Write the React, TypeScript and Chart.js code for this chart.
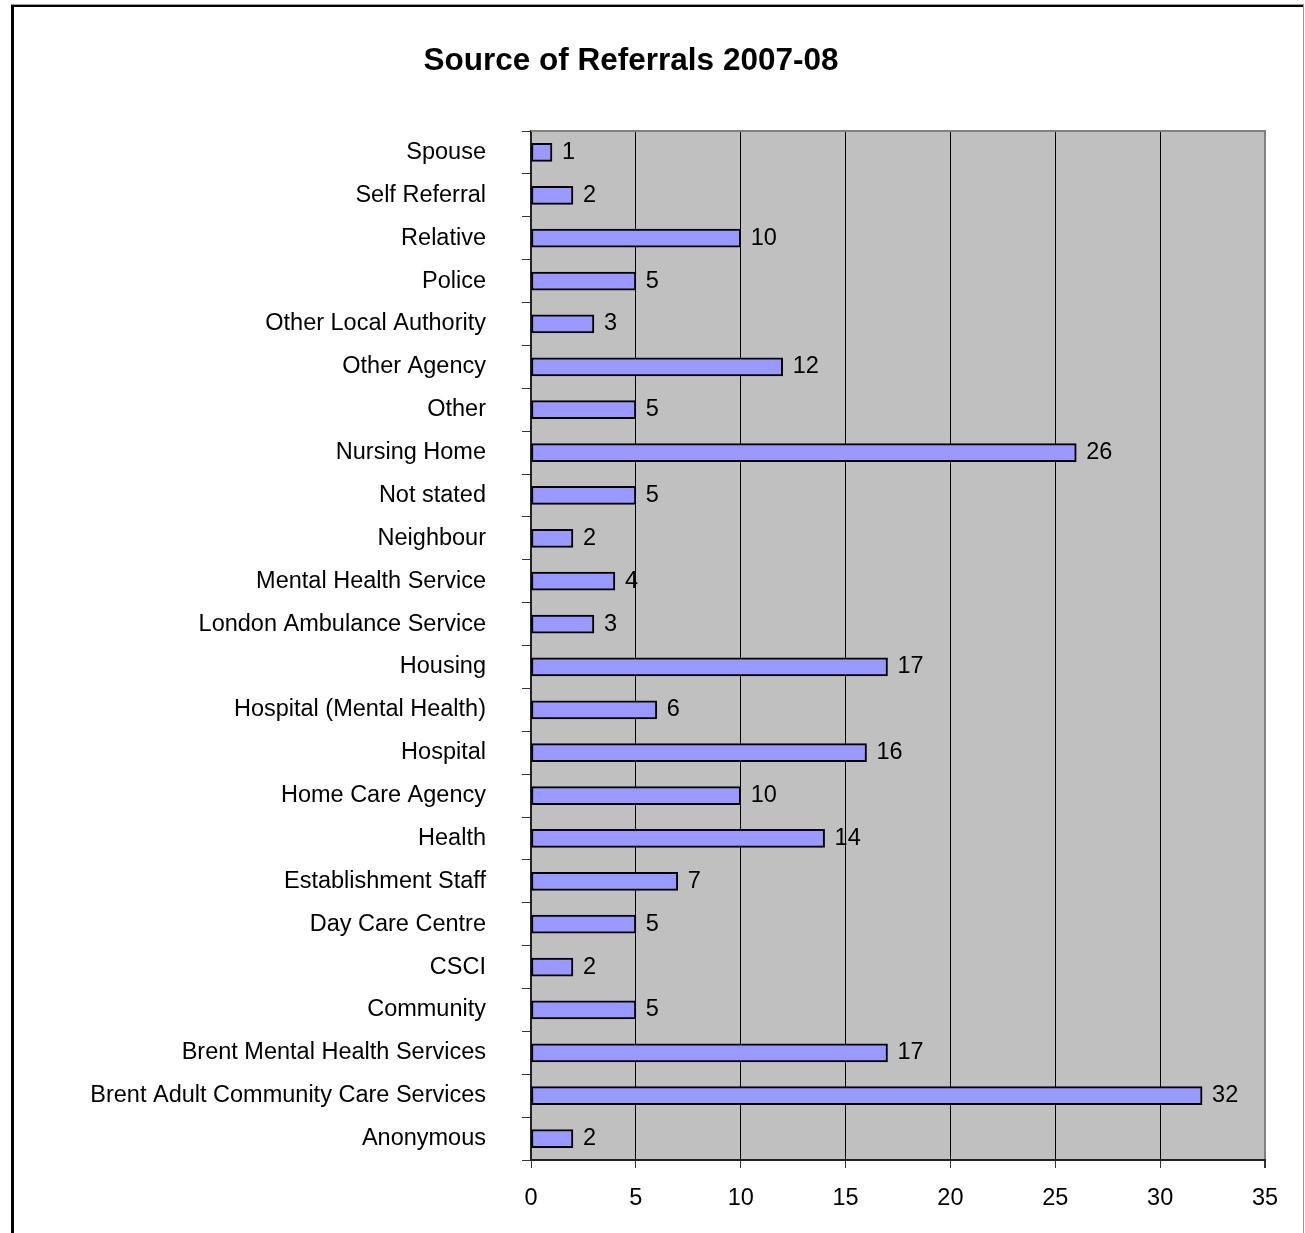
import React, { useEffect, useRef } from "react";
import { Chart, registerables } from "chart.js";

Chart.register(...registerables);

const TITLE = "Source of Referrals 2007-08";

const categories: string[] = [
  "Spouse",
  "Self Referral",
  "Relative",
  "Police",
  "Other Local Authority",
  "Other Agency",
  "Other",
  "Nursing Home",
  "Not stated",
  "Neighbour",
  "Mental Health Service",
  "London Ambulance Service",
  "Housing",
  "Hospital (Mental Health)",
  "Hospital",
  "Home Care Agency",
  "Health",
  "Establishment Staff",
  "Day Care Centre",
  "CSCI",
  "Community",
  "Brent Mental Health Services",
  "Brent Adult Community Care Services",
  "Anonymous",
];

const referrals: number[] = [
  1, 2, 10, 5, 3, 12, 5, 26, 5, 2, 4, 3, 17, 6, 16, 10, 14, 7, 5, 2, 5, 17, 32, 2,
];

const xTicks: number[] = [0, 5, 10, 15, 20, 25, 30, 35];

const FONT = "'Liberation Sans', Arial, Helvetica, sans-serif";

export default function App() {
  const ref = useRef<HTMLCanvasElement | null>(null);

  useEffect(() => {
    document.body.style.margin = "0";
    document.body.style.overflow = "hidden";
    const canvas = ref.current;
    if (!canvas) return;

    const framePlugin = {
      id: "frame",
      beforeDraw(chart: any) {
        const { ctx, chartArea } = chart;
        ctx.save();
        ctx.fillStyle = "#ffffff";
        ctx.fillRect(0, 0, chart.width, chart.height);
        ctx.fillStyle = "#C0C0C0";
        ctx.fillRect(
          chartArea.left,
          chartArea.top,
          chartArea.right - chartArea.left,
          chartArea.bottom - chartArea.top
        );
        // outer frame
        ctx.fillStyle = "#999999";
        ctx.fillRect(11, 4, 1293, 1);
        ctx.fillRect(1303, 4, 1, chart.height);
        ctx.fillStyle = "#000000";
        ctx.fillRect(11, 5, 1292, 2);
        ctx.fillRect(11, 5, 3, chart.height);
        ctx.restore();
      },
      afterDraw(chart: any) {
        const { ctx, chartArea } = chart;
        ctx.save();
        ctx.strokeStyle = "#808080";
        ctx.lineWidth = 2;
        ctx.beginPath();
        ctx.moveTo(chartArea.left, chartArea.top);
        ctx.lineTo(chartArea.right + 1, chartArea.top);
        ctx.stroke();
        ctx.fillStyle = "#000";
        ctx.font = `bold 31.5px ${FONT}`;
        ctx.textAlign = "center";
        ctx.textBaseline = "middle";
        ctx.fillText(TITLE, 631, 61);
        ctx.restore();
      },
    };

    const valueLabels = {
      id: "valueLabels",
      afterDatasetsDraw(chart: any) {
        const { ctx } = chart;
        const meta = chart.getDatasetMeta(0);
        const data = chart.data.datasets[0].data as number[];
        ctx.save();
        ctx.fillStyle = "#000";
        ctx.font = `23.5px ${FONT}`;
        ctx.textAlign = "left";
        ctx.textBaseline = "middle";
        meta.data.forEach((bar: any, i: number) => {
          ctx.fillText(String(data[i]), bar.x + 10, bar.y);
        });
        ctx.restore();
      },
    };

    const chart = new Chart(canvas, {
      type: "bar",
      data: {
        labels: categories,
        datasets: [
          {
            data: referrals,
            backgroundColor: "#9999FF",
            borderColor: "#000000",
            borderWidth: 2,
            borderSkipped: false,
            barThickness: 18,
          },
        ],
      },
      plugins: [framePlugin, valueLabels],
      options: {
        indexAxis: "y",
        animation: false,
        responsive: false,
        devicePixelRatio: 1,
        layout: { padding: { left: 14, right: 40, top: 131, bottom: 0 } },
        plugins: {
          legend: { display: false },
          title: { display: false },
          tooltip: { enabled: false },
        },
        scales: {
          x: {
            type: "linear",
            min: 0,
            max: 35,
            afterFit(scale: any) {
              scale.height = 73;
            },
            afterBuildTicks(scale: any) {
              scale.ticks = xTicks.map((v) => ({ value: v }));
            },
            ticks: {
              stepSize: 5,
              color: "#000",
              font: { family: FONT, size: 23.5 },
              padding: 16,
            },
            grid: {
              color: (c: any) =>
                c.tick && c.tick.value === 35 ? "#808080" : "#000000",
              lineWidth: (c: any) => (c.tick && c.tick.value === 35 ? 2 : 1),
              tickColor: "#333333",
              tickLength: 8,
              drawOnChartArea: true,
            },
            border: { display: true, color: "#222222", width: 2 },
          },
          y: {
            type: "category",
            afterFit(scale: any) {
              scale.width = 531 - 14;
            },
            ticks: {
              color: "#000",
              font: { family: FONT, size: 23.5 },
              padding: 36,
              autoSkip: false,
            },
            grid: {
              offset: true,
              drawOnChartArea: false,
              tickColor: "#333333",
              tickLength: 9,
            },
            border: { display: true, color: "#222222", width: 2 },
          },
        },
      },
    } as any);

    return () => chart.destroy();
  }, []);

  return (
    <canvas
      ref={ref}
      width={1305}
      height={1233}
      style={{ position: "absolute", left: 0, top: 0, width: 1305, height: 1233 }}
    />
  );
}
